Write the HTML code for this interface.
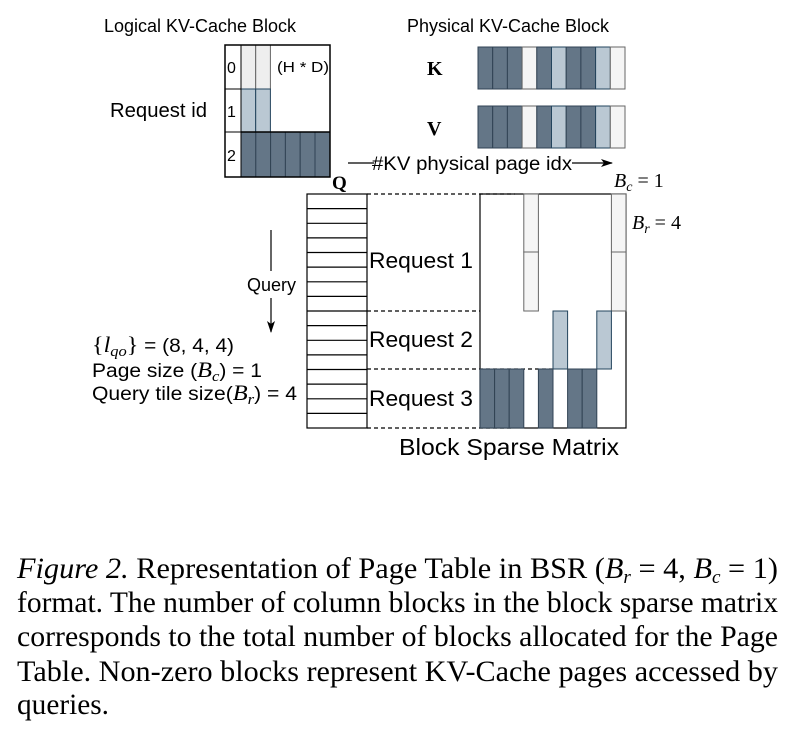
<!DOCTYPE html>
<html><head><meta charset="utf-8"><style>
html,body{margin:0;padding:0;background:#fff;}
svg{display:block;}
.s{font-family:"Liberation Sans",sans-serif;fill:#000;}
.r{font-family:"Liberation Serif",serif;fill:#000;}
</style></head><body>
<svg width="794" height="734" viewBox="0 0 794 734" xmlns="http://www.w3.org/2000/svg">
<defs>
<marker id="ah" markerWidth="12" markerHeight="10" refX="11" refY="5" orient="auto" markerUnits="userSpaceOnUse"><path d="M0,1 L12,5 L0,9 L3,5 Z" fill="#000"/></marker>
</defs>
<text class="s" x="200" y="32" font-size="18" text-anchor="middle">Logical KV-Cache Block</text>
<text class="s" x="508" y="32" font-size="18" text-anchor="middle">Physical KV-Cache Block</text>
<text class="s" x="110" y="117" font-size="20" textLength="97" lengthAdjust="spacingAndGlyphs">Request id</text>

<g stroke-width="1">
<rect x="241" y="45" width="14.7" height="44" fill="#eeeeee" stroke="#666"/>
<rect x="255.7" y="45" width="14.7" height="44" fill="#eeeeee" stroke="#666"/>
<rect x="241" y="89" width="14.7" height="43" fill="#bac8d3" stroke="#23445d"/>
<rect x="255.7" y="89" width="14.7" height="43" fill="#bac8d3" stroke="#23445d"/>
<g fill="#647687" stroke="#314354">
<rect x="241" y="132" width="14.8" height="45"/><rect x="255.8" y="132" width="14.8" height="45"/>
<rect x="270.6" y="132" width="14.8" height="45"/><rect x="285.4" y="132" width="14.8" height="45"/>
<rect x="300.2" y="132" width="14.8" height="45"/><rect x="315" y="132" width="15" height="45"/>
</g>
<rect x="225" y="45" width="105" height="132" fill="none" stroke="#000" stroke-width="1.5"/>
<line x1="225" y1="89" x2="241" y2="89" stroke="#000"/>
<line x1="241" y1="132" x2="330" y2="132" stroke="#000" stroke-width="1.5"/>
<line x1="225" y1="132" x2="241" y2="132" stroke="#000"/>
<line x1="241" y1="45" x2="241" y2="177" stroke="#000"/>
</g>
<text class="s" x="227" y="73" font-size="16">0</text>
<text class="s" x="227" y="117" font-size="16">1</text>
<text class="s" x="227" y="161" font-size="16">2</text>
<text class="s" x="277" y="72" font-size="15" textLength="52" lengthAdjust="spacingAndGlyphs">(H * D)</text>

<text class="r" x="427" y="75" font-size="20" font-weight="bold">K</text>
<text class="r" x="427" y="135" font-size="20" font-weight="bold">V</text>
<g id="kv">
<rect x="478" y="47" width="14.7" height="42" fill="#647687" stroke="#314354"/>
<rect x="492.7" y="47" width="14.7" height="42" fill="#647687" stroke="#314354"/>
<rect x="507.4" y="47" width="14.7" height="42" fill="#647687" stroke="#314354"/>
<rect x="522.1" y="47" width="14.7" height="42" fill="#f5f5f5" stroke="#666"/>
<rect x="536.8" y="47" width="14.7" height="42" fill="#647687" stroke="#314354"/>
<rect x="551.5" y="47" width="14.7" height="42" fill="#bac8d3" stroke="#23445d"/>
<rect x="566.2" y="47" width="14.7" height="42" fill="#647687" stroke="#314354"/>
<rect x="580.9" y="47" width="14.7" height="42" fill="#647687" stroke="#314354"/>
<rect x="595.6" y="47" width="14.7" height="42" fill="#bac8d3" stroke="#23445d"/>
<rect x="610.3" y="47" width="14.7" height="42" fill="#f5f5f5" stroke="#666"/>
</g>
<use href="#kv" y="59"/>

<line x1="348" y1="163" x2="374" y2="163" stroke="#000" stroke-width="1.2"/>
<text class="s" x="372" y="170" font-size="19" textLength="200" lengthAdjust="spacingAndGlyphs">#KV physical page idx</text>
<line x1="572" y1="163" x2="612" y2="163" stroke="#000" stroke-width="1.2" marker-end="url(#ah)"/>
<text class="r" x="332" y="189" font-size="19" font-weight="bold">Q</text>
<text class="r" x="614" y="187" font-size="20"><tspan font-style="italic">B</tspan><tspan font-style="italic" font-size="14" dy="4">c</tspan><tspan dy="-4"> = 1</tspan></text>
<text class="r" x="632" y="229" font-size="20"><tspan font-style="italic">B</tspan><tspan font-style="italic" font-size="14" dy="4">r</tspan><tspan dy="-4"> = 4</tspan></text>

<g stroke="#000" stroke-width="1.2" fill="none">
<rect x="307" y="194" width="60" height="234"/>
<path d="M307 208.6H367M307 223.3H367M307 237.9H367M307 252.5H367M307 267.1H367M307 281.8H367M307 296.4H367M307 311H367M307 325.6H367M307 340.3H367M307 354.9H367M307 369.5H367M307 384.1H367M307 398.8H367M307 413.4H367"/>
</g>
<g stroke="#000" stroke-width="1.2" stroke-dasharray="4,3">
<line x1="367" y1="194" x2="515" y2="194"/>
<line x1="367" y1="311" x2="480" y2="311"/>
<line x1="367" y1="369" x2="553" y2="369"/>
<line x1="367" y1="428" x2="512" y2="428"/>
</g>
<rect x="480" y="194" width="146" height="234" fill="none" stroke="#000" stroke-width="1.2"/>
<g stroke-width="1">
<rect x="523.8" y="194" width="14.6" height="58" fill="#f5f5f5" stroke="#666"/>
<rect x="523.8" y="252" width="14.6" height="59" fill="#f5f5f5" stroke="#666"/>
<rect x="611.4" y="194" width="14.6" height="58" fill="#f5f5f5" stroke="#666"/>
<rect x="611.4" y="252" width="14.6" height="59" fill="#f5f5f5" stroke="#666"/>
<rect x="553" y="311" width="14.6" height="58" fill="#bac8d3" stroke="#23445d"/>
<rect x="596.8" y="311" width="14.6" height="58" fill="#bac8d3" stroke="#23445d"/>
<g fill="#647687" stroke="#314354">
<rect x="480" y="369" width="14.6" height="59"/><rect x="494.6" y="369" width="14.6" height="59"/>
<rect x="509.2" y="369" width="14.6" height="59"/><rect x="538.4" y="369" width="14.6" height="59"/>
<rect x="567.6" y="369" width="14.6" height="59"/><rect x="582.2" y="369" width="14.6" height="59"/>
</g>
</g>
<text class="s" x="369" y="268" font-size="22" textLength="104" lengthAdjust="spacingAndGlyphs">Request 1</text>
<text class="s" x="369" y="347" font-size="22" textLength="104" lengthAdjust="spacingAndGlyphs">Request 2</text>
<text class="s" x="369" y="406" font-size="22" textLength="104" lengthAdjust="spacingAndGlyphs">Request 3</text>
<text class="s" x="399" y="455" font-size="23" textLength="220" lengthAdjust="spacingAndGlyphs">Block Sparse Matrix</text>

<line x1="271" y1="230" x2="271" y2="271" stroke="#000" stroke-width="1.2"/>
<text class="s" x="247" y="291" font-size="18">Query</text>
<line x1="271" y1="298" x2="271" y2="332" stroke="#000" stroke-width="1.2" marker-end="url(#ah)"/>
<text class="s" x="92" y="352" font-size="19" textLength="142" lengthAdjust="spacingAndGlyphs"><tspan class="r" font-size="22">{</tspan><tspan class="r" font-style="italic" font-size="22">l</tspan><tspan class="r" font-style="italic" font-size="15" dy="4">qo</tspan><tspan class="r" font-size="22" dy="-4">}</tspan> = (8, 4, 4)</text>
<text class="s" x="92" y="377" font-size="19" textLength="170" lengthAdjust="spacingAndGlyphs">Page size (<tspan class="r" font-style="italic" font-size="22">B</tspan><tspan class="r" font-style="italic" font-size="15" dy="4">c</tspan><tspan dy="-4">) = 1</tspan></text>
<text class="s" x="92" y="400" font-size="19" textLength="205" lengthAdjust="spacingAndGlyphs">Query tile size(<tspan class="r" font-style="italic" font-size="22">B</tspan><tspan class="r" font-style="italic" font-size="15" dy="4">r</tspan><tspan dy="-4">) = 4</tspan></text>

<g>
<text class="r" x="17" y="578" font-size="30" textLength="761" lengthAdjust="spacingAndGlyphs"><tspan font-style="italic">Figure 2.</tspan> Representation of Page Table in BSR (<tspan font-style="italic">B</tspan><tspan font-style="italic" font-size="19" dy="5">r</tspan><tspan dy="-5"> = 4, </tspan><tspan font-style="italic">B</tspan><tspan font-style="italic" font-size="19" dy="5">c</tspan><tspan dy="-5"> = 1)</tspan></text>
<text class="r" x="17" y="612" font-size="30" textLength="761" lengthAdjust="spacingAndGlyphs">format. The number of column blocks in the block sparse matrix</text>
<text class="r" x="17" y="646" font-size="30" textLength="761" lengthAdjust="spacingAndGlyphs">corresponds to the total number of blocks allocated for the Page</text>
<text class="r" x="17" y="681" font-size="30" textLength="761" lengthAdjust="spacingAndGlyphs">Table.  Non-zero blocks represent KV-Cache pages accessed by</text>
<text class="r" x="17" y="714" font-size="30" textLength="92" lengthAdjust="spacingAndGlyphs">queries.</text>
</g>
</svg>
</body></html>
